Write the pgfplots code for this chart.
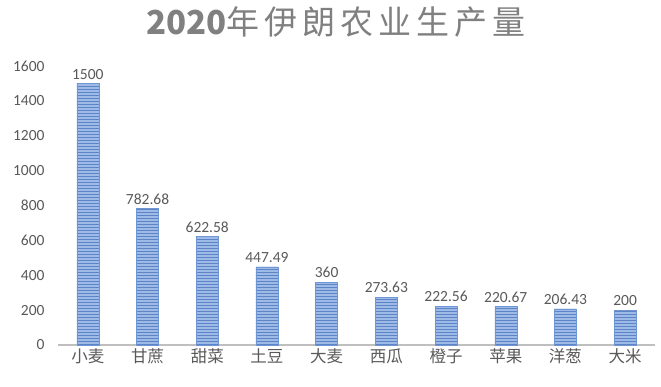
\documentclass[border=0pt]{standalone}
\usepackage{pgfplots}
\pgfplotsset{compat=1.18}
\usepackage{pgfplotstable}
\usetikzlibrary{patterns}
\usepackage{fontspec}
\setmainfont{Carlito}
\newfontfamily\cjk{Noto Sans CJK SC}
\definecolor{txt}{RGB}{89,89,89}
\definecolor{ttl}{RGB}{128,128,128}
\definecolor{barfill}{RGB}{158,186,230}
\definecolor{stripe}{RGB}{92,132,198}
\definecolor{barline}{RGB}{110,150,210}
\definecolor{axl}{RGB}{191,191,191}
\pgfplotstableread{
x y lab
0 1500 1500
1 782.68 782.68
2 622.58 622.58
3 447.49 447.49
4 360 360
5 273.63 273.63
6 222.56 222.56
7 220.67 220.67
8 206.43 206.43
9 200 200
}\data
\begin{document}
\begin{tikzpicture}
\begin{axis}[
  at={(58pt,42pt)}, anchor=south west,
  scale only axis, width=597pt, height=279pt,
  xmin=-0.5, xmax=9.5, ymin=0, ymax=1600,
  ytick={0,200,...,1600},
  xtick=data,
  xticklabels={小麦,甘蔗,甜菜,土豆,大麦,西瓜,橙子,苹果,洋葱,大米},
  axis x line*=bottom, axis y line*=left,
  x axis line style={draw=axl, line width=1.3pt, -},
  y axis line style={draw=none},
  major tick length=0pt,
  /pgf/number format/.cd, 1000 sep={}, assume math mode=true, /pgfplots/.cd,
  yticklabel style={font=\fontsize{15.5}{18}\selectfont, color=txt, anchor=east, xshift=-10pt},
  xticklabel style={font=\cjk\fontsize{16.5}{19}\selectfont, color=txt},
  ybar, bar width=22pt,
  nodes near coords, point meta=explicit symbolic,
  nodes near coords style={font=\fontsize{15.5}{18}\selectfont, color=txt, inner sep=4pt},
  clip=false,
]
\addplot[fill=barfill, draw=barline, line width=0.5pt,
  postaction={pattern=horizontal lines, pattern color=stripe}]
  table[x=x, y=y, meta=lab] {\data};
\end{axis}
\node[color=ttl] at (336pt,365pt) {\fontsize{33}{40}\selectfont\cjk\textbf{2020}年\hspace{5pt}伊\hspace{5pt}朗\hspace{5pt}农\hspace{5pt}业\hspace{5pt}生\hspace{5pt}产\hspace{5pt}量};
\pgfresetboundingbox
\useasboundingbox (0pt,0pt) rectangle (661pt,387pt);
\end{tikzpicture}
\end{document}
